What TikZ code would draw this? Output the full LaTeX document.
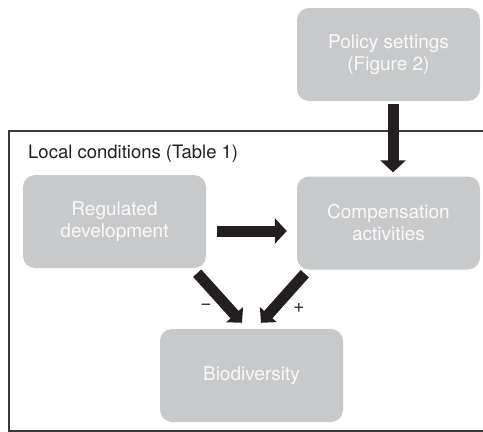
\documentclass[tikz,border=0pt]{standalone}
\usepackage{fontspec}
\setmainfont{TeX Gyre Heros}
\usetikzlibrary{arrows.meta,calc}
\definecolor{boxgrey}{HTML}{C8C9CB}
\definecolor{boxtext}{HTML}{FAFAFA}
\definecolor{arrowdark}{HTML}{231F20}
\definecolor{framegrey}{HTML}{3A3A3A}
\begin{document}
\begin{tikzpicture}[x=1pt,y=-1pt,
  box/.style={rectangle, rounded corners=12pt, fill=boxgrey, draw=none,
    minimum width=183pt, minimum height=93pt, text=boxtext, align=center,
    font=\fontsize{19}{22}\selectfont, inner sep=0pt},
  bigarrow/.style={draw=arrowdark, line width=11pt,
    -{Triangle[width=25pt,length=12pt]}},
  diagarrow/.style={draw=arrowdark, line width=11pt,
    -{Triangle[width=22pt,length=11pt]}},
  sign/.style={font=\fontsize{19}{19}\selectfont, text=arrowdark, inner sep=0pt},
  frametext/.style={font=\fontsize{18.5}{22}\selectfont, text=arrowdark, anchor=base west, inner sep=0pt}]
\useasboundingbox (0,0) rectangle (483,432);
% frame
\coordinate (ftr) at (483,131);
\coordinate (ftl) at (9,131);
\coordinate (fbl) at (9,431);
\coordinate (fbr) at (483,431);
\draw[framegrey, line width=1.2pt] (ftr) -- (ftl) -- (fbl) -- (fbr);
\node[frametext] (local) at (28,158) {Local conditions (Table 1)};
% boxes
\node[box] (policy) at (388.5,54.5) {Policy settings\\(Figure 2)};
\node[box] (reg) at (114.5,221.5) {Regulated\\development};
\node[box] (comp) at (388.5,223) {Compensation\\activities};
\node[box] (bio) at (251.5,375.5) {Biodiversity};
% arrows
\draw[bigarrow] ([xshift=4.5pt,yshift=-3pt]policy.south) -- ([xshift=4.5pt,yshift=4pt]comp.north);
\draw[bigarrow] ([xshift=11pt]reg.east |- 0,231) -- ([xshift=-10pt]comp.west |- 0,231);
\draw[diagarrow] ([shift={(-9,5)}]reg.south east) -- ([shift={(-9.5,-6)}]bio.north);
\draw[diagarrow] ([shift={(8,4)}]comp.south west) -- ([shift={(9.5,-6)}]bio.north);
% signs
\node[sign] (minus) at (206,307) {−};
\node[sign] (plus) at (299,308) {+};
\end{tikzpicture}
\end{document}
